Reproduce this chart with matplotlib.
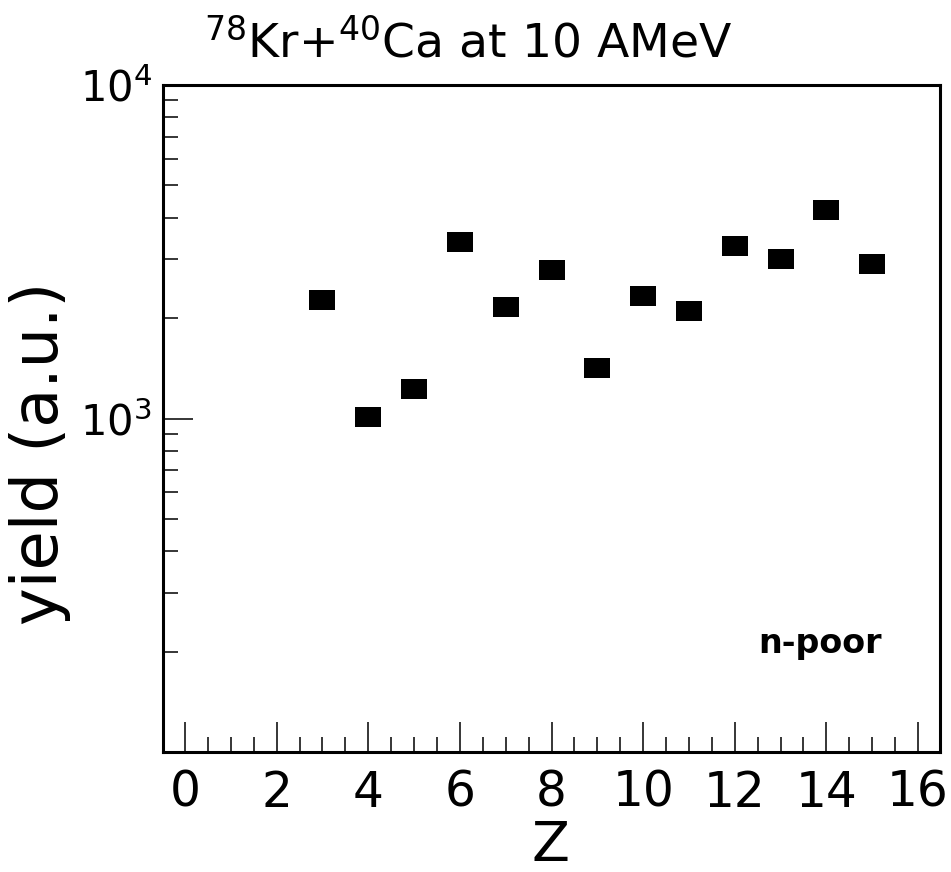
import matplotlib
matplotlib.use("Agg")
import matplotlib.pyplot as plt
from matplotlib.ticker import MultipleLocator, LogLocator, NullFormatter, FixedLocator

plt.rcParams['font.family'] = ['DejaVu Sans']
plt.rcParams['mathtext.fontset'] = 'dejavusans'

Z = [3, 4, 5, 6, 7, 8, 9, 10, 11, 12, 13, 14, 15]
yields = [2265, 1011, 1230, 3388, 2153, 2785, 1419, 2323, 2094, 3296, 3006, 4224, 2898]

title_text = r'$^{78}$Kr+$^{40}$Ca at 10 AMeV'
xlabel_text = 'Z'
ylabel_text = 'yield (a.u.)'
annot_text = 'n-poor'

W, H = 951, 872
fig = plt.figure(figsize=(W / 100, H / 100), dpi=100)
ax = fig.add_axes([163 / W, 1 - 752 / H, (940 - 163) / W, (752 - 85) / H])

rect = [(-1, -0.77), (1, -0.77), (1, 0.77), (-1, 0.77), (-1, -0.77)]
ax.plot(Z, yields, linestyle='none', marker=rect, markersize=18.7,
        markerfacecolor='black', markeredgewidth=0, color='black')

ax.set_yscale('log')
ax.set_xlim(-0.48, 16.48)
ax.set_ylim(100, 10000)

ax.xaxis.set_major_locator(MultipleLocator(2))
ax.xaxis.set_minor_locator(MultipleLocator(0.5))
ax.yaxis.set_major_locator(FixedLocator([1000, 10000]))
ax.yaxis.set_minor_locator(LogLocator(base=10, subs=range(2, 10)))
ax.yaxis.set_minor_formatter(NullFormatter())

for s in ax.spines.values():
    s.set_linewidth(2.2)

ax.tick_params(axis='both', which='both', direction='in', top=False, right=False)
ax.tick_params(axis='both', which='major', length=21.6, width=1.1)
ax.tick_params(axis='both', which='minor', length=11, width=1.1)
ax.tick_params(axis='x', which='major', labelsize=35, pad=12)
ax.tick_params(axis='y', which='major', labelsize=30, pad=8)

fig.text(40 / W, 1 - 453 / H, ylabel_text, rotation=90, ha='center', va='center', fontsize=46)
fig.text(550 / W, 1 - 846 / H, xlabel_text, ha='center', va='center', fontsize=40)
fig.text(468 / W, 1 - 57 / H, title_text, ha='center', va='baseline', fontsize=34)
fig.text(820 / W, 1 - 653 / H, annot_text, ha='center', va='baseline', fontsize=24, fontweight='bold')

fig.savefig('out.png', dpi=100)
